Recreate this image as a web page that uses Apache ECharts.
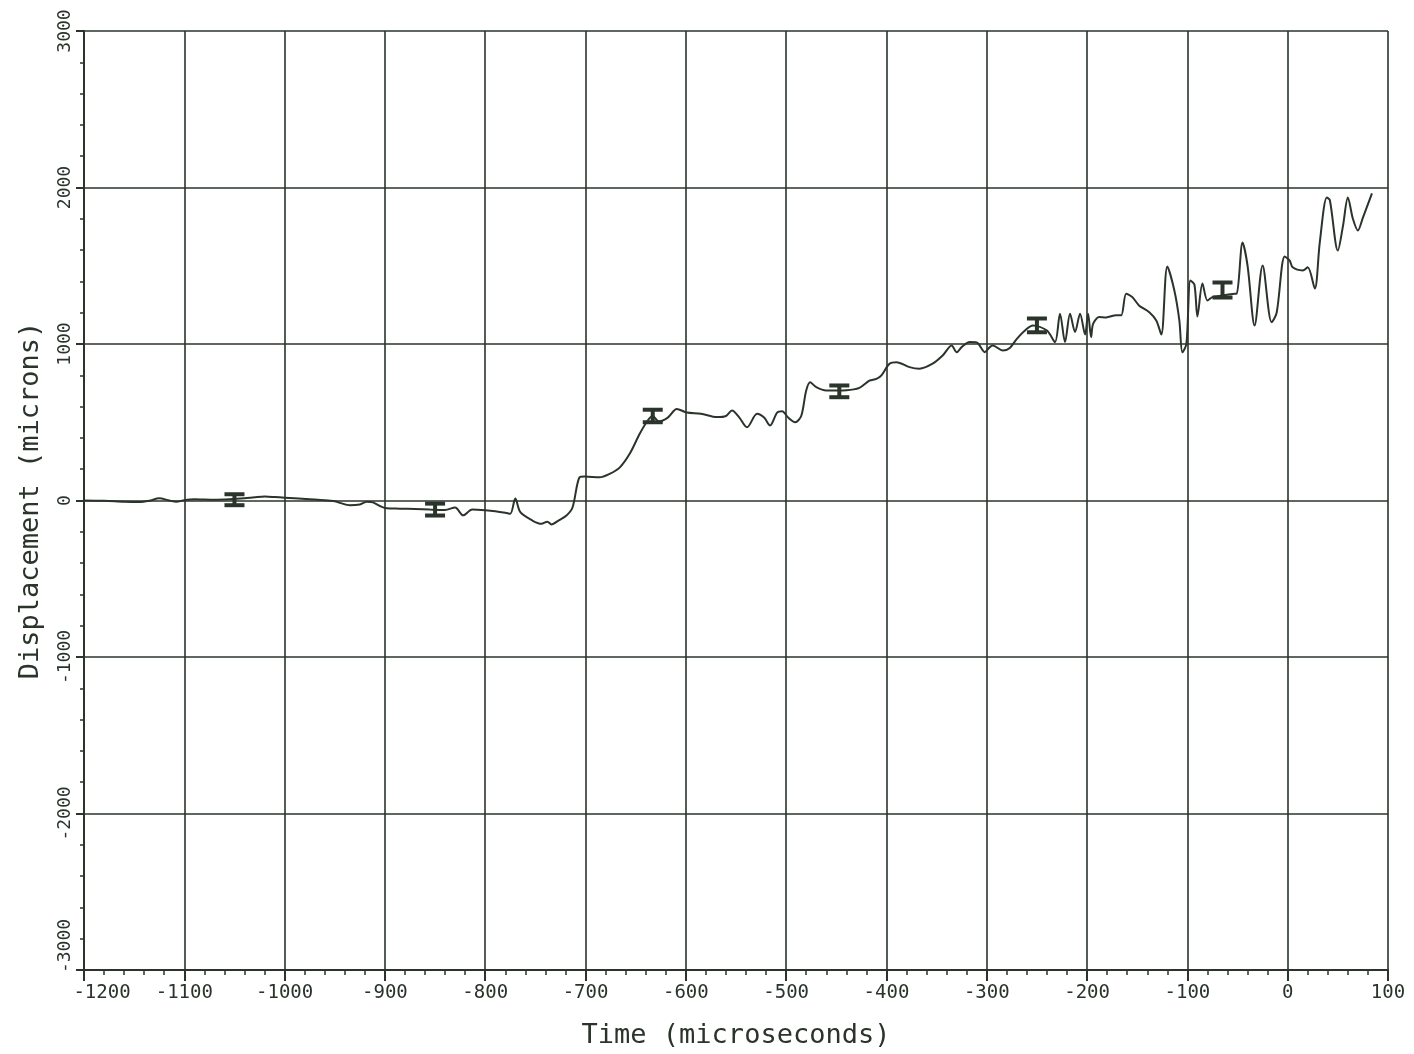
<!DOCTYPE html>
<html>
<head>
<meta charset="utf-8">
<title>Displacement vs Time</title>
<script src="https://cdn.jsdelivr.net/npm/echarts@6/dist/echarts.min.js"></script>
<style>
  html, body { margin: 0; padding: 0; background: #ffffff; }
  #chart { width: 1414px; height: 1054px; }
</style>
</head>
<body>
<div id="chart"></div>
<script>
// Time samples (microseconds) and measured displacement (microns)
const timeUs = [
  -1200, -1180, -1160, -1145, -1135, -1125, -1115, -1108, -1100, -1090,
  -1070, -1055, -1040, -1030, -1020, -1010, -1000, -990, -975, -960,
  -950, -945, -935, -925, -918, -912, -905, -898, -885, -870,
  -855, -840, -830, -822, -813, -800, -790, -780, -775, -770,
  -765, -753, -744, -738, -734, -727, -719, -713, -706, -701,
  -686, -676, -666, -656, -646, -638, -633, -627, -618, -609,
  -599, -585, -569, -560, -554, -547, -539, -529, -522, -516,
  -509, -504, -498, -491, -485, -480, -476, -470, -460, -440,
  -427, -417, -410, -405, -397, -390, -377, -367, -354, -344,
  -335, -330, -325, -317, -310, -302, -297, -294, -284, -277,
  -270, -260, -254, -240, -232, -227, -222, -217, -212, -207,
  -202, -199, -196, -194, -188, -181, -171, -166, -161, -155,
  -148, -138, -131, -126, -120, -113, -108, -105, -101, -97,
  -93, -90, -85, -80, -75, -70, -55, -51, -45, -40,
  -33, -25, -16, -11, -3, 2, 5, 15, 20, 27,
  32, 39, 42, 50, 55, 60, 65, 70, 75, 84
];
const displacement = [
  0, -2, -8, -10, -2, 14, 0, -8, 2, 8,
  5, 8, 14, 20, 25, 22, 18, 14, 8, 2,
  -5, -15, -30, -25, -8, -12, -35, -50, -52, -55,
  -58, -60, -45, -95, -58, -62, -68, -78, -85, 12,
  -75, -128, -149, -135, -153, -128, -96, -45, 148, 153,
  148, 170, 210, 298, 426, 511, 540, 505, 530, 585,
  562, 555, 533, 540, 575, 533, 468, 554, 530, 479,
  562, 570, 530, 500, 540, 703, 755, 724, 703, 705,
  720, 766, 777, 800, 874, 884, 852, 842, 874, 926,
  990, 948, 980, 1012, 1010, 948, 980, 990, 958, 975,
  1033, 1097, 1118, 1086, 1012, 1194, 1012, 1194, 1076, 1194,
  1060, 1194, 1044, 1129, 1172, 1170, 1184, 1183, 1321, 1300,
  1245, 1203, 1150, 1061, 1495, 1342, 1150, 947, 1000, 1406,
  1380, 1176, 1386, 1278, 1300, 1305, 1320, 1321, 1648, 1500,
  1118, 1502, 1139, 1200, 1559, 1533, 1490, 1470, 1490, 1355,
  1650, 1936, 1920, 1597, 1750, 1936, 1800, 1725, 1808, 1962
];

// Error bars: time, lower bound, upper bound
const errTime = [-1050, -850, -633, -447, -250, -65];
const errLow  = [-30, -96, 500, 660, 1075, 1297];
const errHigh = [40, -20, 580, 735, 1163, 1393];

// Axis tick labels
const xTickValues = [-1200, -1100, -1000, -900, -800, -700, -600, -500, -400, -300, -200, -100, 0, 100];
const xTickLabels = ['-1200', '-1100', '-1000', '-900', '-800', '-700', '-600', '-500', '-400', '-300', '-200', '-100', '0', '100'];
const yTickValues = [-3000, -2000, -1000, 0, 1000, 2000, 3000];
const yTickLabels = ['-3000', '-2000', '-1000', '0', '1000', '2000', '3000'];

const ink = '#2a342b';
const fontFamily = '"DejaVu Sans Mono", monospace';

const lineData = timeUs.map((t, i) => [t, displacement[i]]);
const errData = errTime.map((t, i) => [t, errLow[i], errHigh[i]]);

// Corner labels are nudged inward so the two axes' end labels do not collide
function labelFor(values, labels) {
  return function (v) {
    const i = values.indexOf(Math.round(v));
    if (i < 0) return '';
    if (i === 0) return '{first|' + labels[i] + '}';
    return labels[i];
  };
}

const chart = echarts.init(document.getElementById('chart'), null, { renderer: 'canvas' });

chart.setOption({
  backgroundColor: '#ffffff',
  animation: false,
  grid: { left: 84, right: 26, top: 31, bottom: 84, containLabel: false },
  xAxis: {
    type: 'value',
    min: -1200,
    max: 100,
    interval: 100,
    name: 'Time (microseconds)',
    nameLocation: 'middle',
    nameGap: 52,
    nameTextStyle: { color: ink, fontFamily: fontFamily, fontSize: 27 },
    axisLine: { show: true, onZero: false, lineStyle: { color: ink, width: 2 } },
    axisTick: { show: true, inside: false, length: 11, lineStyle: { color: ink, width: 2 } },
    minorTick: { show: true, splitNumber: 5, length: 5, lineStyle: { color: ink, width: 1.5 } },
    axisLabel: {
      color: ink, fontFamily: fontFamily, fontSize: 19, margin: 14,
      formatter: labelFor(xTickValues, xTickLabels),
      rich: {
        first: { color: ink, fontFamily: fontFamily, fontSize: 19, padding: [0, 0, 0, 36] }
      }
    },
    splitLine: { show: true, lineStyle: { color: ink, width: 1.6 } }
  },
  yAxis: {
    type: 'value',
    min: -3000,
    max: 3000,
    interval: 1000,
    name: 'Displacement (microns)',
    nameLocation: 'middle',
    nameGap: 40,
    nameRotate: 90,
    nameTextStyle: { color: ink, fontFamily: fontFamily, fontSize: 27 },
    axisLine: { show: true, onZero: false, lineStyle: { color: ink, width: 2 } },
    axisTick: { show: true, inside: false, length: 8, lineStyle: { color: ink, width: 2 } },
    minorTick: { show: true, splitNumber: 5, length: 4, lineStyle: { color: ink, width: 1.5 } },
    axisLabel: {
      color: ink, fontFamily: fontFamily, fontSize: 18, rotate: 90, margin: 10,
      formatter: labelFor(yTickValues, yTickLabels),
      rich: {
        first: { color: ink, fontFamily: fontFamily, fontSize: 18, padding: [0, 0, 0, 48] }
      }
    },
    splitLine: { show: true, lineStyle: { color: ink, width: 1.6 } }
  },
  series: [
    {
      type: 'line',
      data: lineData,
      showSymbol: false,
      smooth: 0.3,
      lineStyle: { color: ink, width: 2 },
      z: 3
    },
    {
      type: 'custom',
      data: errData,
      z: 4,
      renderItem: function (params, api) {
        const top = api.coord([api.value(0), api.value(2)]);
        const bottom = api.coord([api.value(0), api.value(1)]);
        const half = 10;
        const style = { stroke: ink, lineWidth: 4 };
        return {
          type: 'group',
          children: [
            { type: 'line', shape: { x1: top[0], y1: top[1], x2: bottom[0], y2: bottom[1] }, style: style },
            { type: 'line', shape: { x1: top[0] - half, y1: top[1], x2: top[0] + half, y2: top[1] }, style: style },
            { type: 'line', shape: { x1: bottom[0] - half, y1: bottom[1], x2: bottom[0] + half, y2: bottom[1] }, style: style }
          ]
        };
      }
    }
  ]
});
</script>
</body>
</html>
